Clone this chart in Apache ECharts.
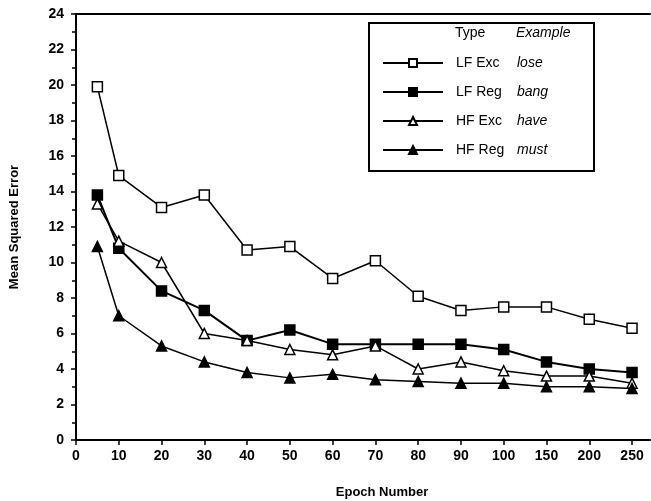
<!DOCTYPE html>
<html>
<head>
<meta charset="utf-8">
<script src="https://cdn.jsdelivr.net/npm/echarts@6/dist/echarts.min.js"></script>
<style>
  html, body { margin: 0; padding: 0; background: #fff; }
  #main { width: 651px; height: 501px; }
</style>
</head>
<body>
<div id="main"></div>
<script>
var myChart = echarts.init(document.getElementById('main'));

// tick labels of the x axis (evenly spaced on the page)
var xTicks = [0, 10, 20, 30, 40, 50, 60, 70, 80, 90, 100, 150, 200, 250];
var epochs = [5, 10, 20, 30, 40, 50, 60, 70, 80, 90, 100, 150, 200, 250];

var types = ['LF Exc', 'LF Reg', 'HF Exc', 'HF Reg'];
var examples = ['lose', 'bang', 'have', 'must'];

var lfExc = [19.9, 14.9, 13.1, 13.8, 10.7, 10.9, 9.1, 10.1, 8.1, 7.3, 7.5, 7.5, 6.8, 6.3];
var lfReg = [13.8, 10.8, 8.4, 7.3, 5.6, 6.2, 5.4, 5.4, 5.4, 5.4, 5.1, 4.4, 4.0, 3.8];
var hfExc = [13.3, 11.2, 10.0, 6.0, 5.6, 5.1, 4.8, 5.3, 4.0, 4.4, 3.9, 3.6, 3.6, 3.2];
var hfReg = [10.9, 7.0, 5.3, 4.4, 3.8, 3.5, 3.7, 3.4, 3.3, 3.2, 3.2, 3.0, 3.0, 2.9];

// piecewise axis: each tick label sits one unit apart
function axisPos(e) {
    for (var i = 0; i < xTicks.length - 1; i++) {
        if (e <= xTicks[i + 1]) {
            return i + (e - xTicks[i]) / (xTicks[i + 1] - xTicks[i]);
        }
    }
    return xTicks.length - 1;
}

function pairs(vals) {
    return epochs.map(function (e, i) { return [axisPos(e), vals[i]]; });
}

var font = '"Liberation Sans", Arial, sans-serif';
var tickIdx = xTicks.map(function (t, i) { return i; });

function makeSeries(name, vals, symbol, filled, width) {
    return {
        name: name,
        type: 'line',
        data: pairs(vals),
        symbol: symbol,
        symbolSize: 10,
        showAllSymbol: true,
        lineStyle: { color: '#000', width: width },
        itemStyle: {
            color: filled ? '#000' : '#fff',
            borderColor: '#000',
            borderWidth: 1.5
        },
        emphasis: { disabled: true }
    };
}

option = {
    animation: false,
    backgroundColor: '#fff',
    textStyle: { fontFamily: font },
    grid: { left: 76, right: 1, top: 14, bottom: 61, outerBoundsMode: 'none', containLabel: false },
    legend: {
        orient: 'vertical',
        left: 377,
        top: 51,
        itemWidth: 60,
        itemHeight: 10,
        itemGap: 15,
        selectedMode: false,
        data: types,
        formatter: function (name) {
            return '{a|' + name + '}{b|' + examples[types.indexOf(name)] + '}';
        },
        textStyle: {
            rich: {
                a: { fontFamily: font, fontSize: 14, color: '#000', width: 61, padding: [0, 0, 0, 8], lineHeight: 15 },
                b: { fontFamily: font, fontSize: 14, fontStyle: 'italic', color: '#000', lineHeight: 15 }
            }
        }
    },
    graphic: [
        { type: 'rect', shape: { x: 369, y: 23, width: 225, height: 148 },
          style: { fill: 'none', stroke: '#000', lineWidth: 2 }, z: 1 },
        { type: 'text', left: 455, top: 26,
          style: { text: 'Type', font: '14px ' + font, fill: '#000' } },
        { type: 'text', left: 516, top: 26,
          style: { text: 'Example', font: 'italic 14px ' + font, fill: '#000' } }
    ],
    xAxis: [{
        type: 'value',
        min: 0,
        max: 13.42,
        interval: 1,
        name: 'Epoch Number',
        nameLocation: 'middle',
        nameGap: 46,
        nameTextStyle: { fontFamily: font, fontSize: 13, fontWeight: 'bold', color: '#000', padding: [0, 0, 0, 38] },
        splitLine: { show: false },
        axisLine: { lineStyle: { color: '#000', width: 2 } },
        axisTick: { length: 5, lineStyle: { color: '#000', width: 1.5 }, customValues: tickIdx },
        axisLabel: {
            customValues: tickIdx,
            formatter: function (v) { return String(xTicks[Math.round(v)]); },
            color: '#000', fontSize: 14, fontWeight: 'bold', fontFamily: font, margin: 9
        }
    }, {
        type: 'value',
        position: 'top',
        min: 0,
        max: 13.42,
        axisLine: { show: true, lineStyle: { color: '#000', width: 2 } },
        axisTick: { show: false },
        axisLabel: { show: false },
        splitLine: { show: false }
    }],
    yAxis: {
        type: 'value',
        min: 0,
        max: 24,
        interval: 2,
        name: 'Mean Squared Error',
        nameLocation: 'middle',
        nameGap: 55,
        nameTextStyle: { fontFamily: font, fontSize: 13, fontWeight: 'bold', color: '#000' },
        splitLine: { show: false },
        axisLine: { show: true, lineStyle: { color: '#000', width: 2 } },
        axisTick: { length: 5, lineStyle: { color: '#000', width: 1.5 } },
        minorTick: { show: true, splitNumber: 2, length: 4, lineStyle: { color: '#000', width: 1.5 } },
        axisLabel: { color: '#000', fontSize: 14, fontWeight: 'bold', fontFamily: font, margin: 12 }
    },
    series: [
        makeSeries('LF Exc', lfExc, 'rect', false, 1.5),
        makeSeries('LF Reg', lfReg, 'rect', true, 2),
        makeSeries('HF Exc', hfExc, 'triangle', false, 1.5),
        makeSeries('HF Reg', hfReg, 'triangle', true, 1.5)
    ]
};

myChart.setOption(option);
</script>
</body>
</html>
